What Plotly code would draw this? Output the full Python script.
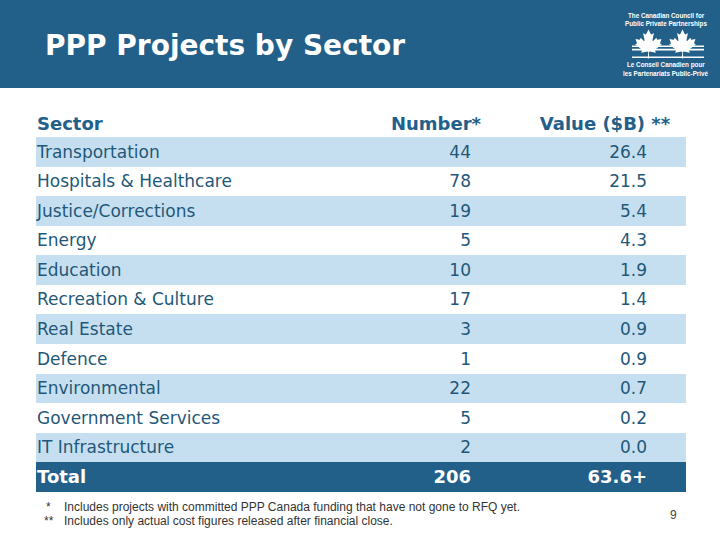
import plotly.graph_objects as go

# ---------------- data ----------------
sectors = ["Transportation", "Hospitals & Healthcare", "Justice/Corrections", "Energy",
           "Education", "Recreation & Culture", "Real Estate", "Defence",
           "Environmental", "Government Services", "IT Infrastructure"]
numbers = [44, 78, 19, 5, 10, 17, 3, 1, 22, 5, 2]
values = [26.4, 21.5, 5.4, 4.3, 1.9, 1.4, 0.9, 0.9, 0.7, 0.2, 0.0]
total_label = "Total"
total_number = 206
total_value = "63.6+"
headers = ["Sector", "Number*", "Value ($B) **"]
footnotes = ["Includes projects with committed PPP Canada funding that have not gone to RFQ yet.",
             "Includes only actual cost figures released after financial close."]
footnote_marks = ["*", "**"]
title = "PPP Projects by Sector"
page_number = "9"

# ---------------- style ----------------
W, H = 720, 540
DARK = "#22608a"
LIGHT = "#c6dff0"
TXT = "#1f5878"
FONT = "DejaVu Sans"
BODY = 17
TABLE_TOP = 137.0     # px, top of first data row
ROW_H = 29.58         # px
TABLE_L, TABLE_R = 36, 686
X_SECTOR, X_NUM, X_VAL = 37, 471, 647
X_NUM_HDR, X_VAL_HDR = 436, 605
TEXT_DY = 0.05        # small downward nudge of text within rows (row units)

n = len(sectors)
rows = list(range(1, n + 1))
total_row = n + 1
text_rows = [r + TEXT_DY for r in rows]

# y axis in row units mapped so that rows land on the slide grid
y_top = (0 - TABLE_TOP) / ROW_H + 0.5
y_bot = (H - TABLE_TOP) / ROW_H + 0.5

fig = go.Figure()

# row bands (alternating) + total row
band_rows = [r for r in rows if r % 2 == 1]
fig.add_trace(go.Bar(
    orientation="h", y=band_rows, x=[TABLE_R - TABLE_L] * len(band_rows), base=TABLE_L,
    width=1.0, marker=dict(color=LIGHT, line=dict(width=0)), hoverinfo="skip", showlegend=False))
fig.add_trace(go.Bar(
    orientation="h", y=[total_row], x=[TABLE_R - TABLE_L], base=TABLE_L,
    width=1.0, marker=dict(color=DARK, line=dict(width=0)), hoverinfo="skip", showlegend=False))

# body text
fig.add_trace(go.Scatter(
    x=[X_SECTOR] * n, y=text_rows, mode="text", text=sectors, textposition="middle right",
    textfont=dict(family=FONT, size=BODY, color=TXT), hoverinfo="skip", showlegend=False))
fig.add_trace(go.Scatter(
    x=[X_NUM] * n, y=text_rows, mode="text", text=[str(v) for v in numbers], textposition="middle left",
    textfont=dict(family=FONT, size=BODY, color=TXT), hoverinfo="skip", showlegend=False))
fig.add_trace(go.Scatter(
    x=[X_VAL] * n, y=text_rows, mode="text", text=[f"{v:.1f}" for v in values], textposition="middle left",
    textfont=dict(family=FONT, size=BODY, color=TXT), hoverinfo="skip", showlegend=False))

# header row
hdr_y = 0 + 2 * TEXT_DY
fig.add_trace(go.Scatter(
    x=[X_SECTOR], y=[hdr_y], mode="text", text=["<b>" + headers[0] + "</b>"], textposition="middle right",
    textfont=dict(family=FONT, size=BODY + 1, color=DARK), hoverinfo="skip", showlegend=False))
fig.add_trace(go.Scatter(
    x=[X_NUM_HDR, X_VAL_HDR], y=[hdr_y, hdr_y], mode="text", text=["<b>" + h + "</b>" for h in headers[1:]],
    textposition="middle center",
    textfont=dict(family=FONT, size=BODY + 1, color=DARK), hoverinfo="skip", showlegend=False))

# total row
tot_y = total_row + TEXT_DY
fig.add_trace(go.Scatter(
    x=[X_SECTOR], y=[tot_y], mode="text", text=["<b>" + total_label + "</b>"], textposition="middle right",
    textfont=dict(family=FONT, size=BODY + 1, color="white"), hoverinfo="skip", showlegend=False))
fig.add_trace(go.Scatter(
    x=[X_NUM, X_VAL], y=[tot_y, tot_y], mode="text",
    text=["<b>" + str(total_number) + "</b>", "<b>" + total_value + "</b>"], textposition="middle left",
    textfont=dict(family=FONT, size=BODY + 1, color="white"), hoverinfo="skip", showlegend=False))

shapes = []
# header band
shapes.append(dict(type="rect", xref="paper", yref="paper", x0=0, x1=1, y0=1 - 88 / H, y1=1,
                   fillcolor=DARK, line=dict(width=0), layer="below"))

# logo stripes
for yy, hh in [(46.3, 1.6), (49.6, 1.6), (57.3, 1.6)]:
    shapes.append(dict(type="rect", xref="x", yref="paper", x0=632, x1=704,
                       y0=1 - (yy + hh / 2) / H, y1=1 - (yy - hh / 2) / H,
                       fillcolor="white", line=dict(width=0)))

# maple leaf outline (Canadian flag leaf, y down), scaled to pixels
leaf_pts = [(-90, 2030), (-45, 1167), (-156, 1069), (-1015, 1220), (-899, 900), (-919, 827),
            (-1860, 65), (-1648, -34), (-1614, -113), (-1800, -685), (-1258, -570), (-1185, -608),
            (-1080, -855), (-657, -401), (-546, -458), (-750, -1510), (-423, -1321), (-332, -1348),
            (0, -2000)]
leaf_pts = leaf_pts + [(-x, y) for (x, y) in reversed(leaf_pts[:-1])]
s = 29.0 / 4030.0
leaf_path = "M " + " L ".join(f"{x * s:.2f},{-(y - 15) * s:.2f}" for x, y in leaf_pts) + " Z"
for cx in (648.5, 682.5):
    shapes.append(dict(type="path", xref="x", yref="paper", xsizemode="pixel", ysizemode="pixel",
                       xanchor=cx, yanchor=1 - 44 / H, path=leaf_path,
                       fillcolor="white", line=dict(width=0)))

annotations = []
annotations.append(dict(xref="paper", yref="paper", x=43 / W, y=1 - 46 / H, xanchor="left", yanchor="middle",
                        text="<b>" + title + "</b>", showarrow=False,
                        font=dict(family=FONT, size=28, color="white")))
logo_lines = [("The Canadian Council for", 15), ("Public Private Partnerships", 24),
              ("Le Conseil Canadien pour", 65), ("les Partenariats Public-Privé", 73)]
for t, yy in logo_lines:
    annotations.append(dict(xref="x", yref="paper", x=666, y=1 - yy / H, xanchor="center", yanchor="middle",
                            text="<b>" + t + "</b>", showarrow=False,
                            font=dict(family="Liberation Sans", size=6.3, color="white")))
for mark, t, yy in zip(footnote_marks, footnotes, (507, 521)):
    annotations.append(dict(xref="x", yref="paper", x=42 if mark == "**" else 44, y=1 - yy / H,
                            xanchor="left", yanchor="middle", text=mark, showarrow=False,
                            font=dict(family="Liberation Sans", size=12, color="#333333")))
    annotations.append(dict(xref="x", yref="paper", x=62, y=1 - yy / H,
                            xanchor="left", yanchor="middle", text=t, showarrow=False,
                            font=dict(family="Liberation Sans", size=12, color="#333333")))
annotations.append(dict(xref="x", yref="paper", x=673, y=1 - 515 / H, xanchor="center", yanchor="middle",
                        text=page_number, showarrow=False,
                        font=dict(family="Liberation Sans", size=12, color="#444444")))

fig.update_layout(
    width=W, height=H, margin=dict(l=0, r=0, t=0, b=0),
    paper_bgcolor="white", plot_bgcolor="rgba(0,0,0,0)",
    xaxis=dict(range=[0, W], visible=False, fixedrange=True),
    yaxis=dict(range=[y_bot, y_top], visible=False, fixedrange=True),
    barmode="overlay", bargap=0,
    shapes=shapes, annotations=annotations,
)

fig.write_html("out.html", config={"displayModeBar": False},
               post_script="document.body.style.margin='0';document.body.style.overflow='hidden';")
